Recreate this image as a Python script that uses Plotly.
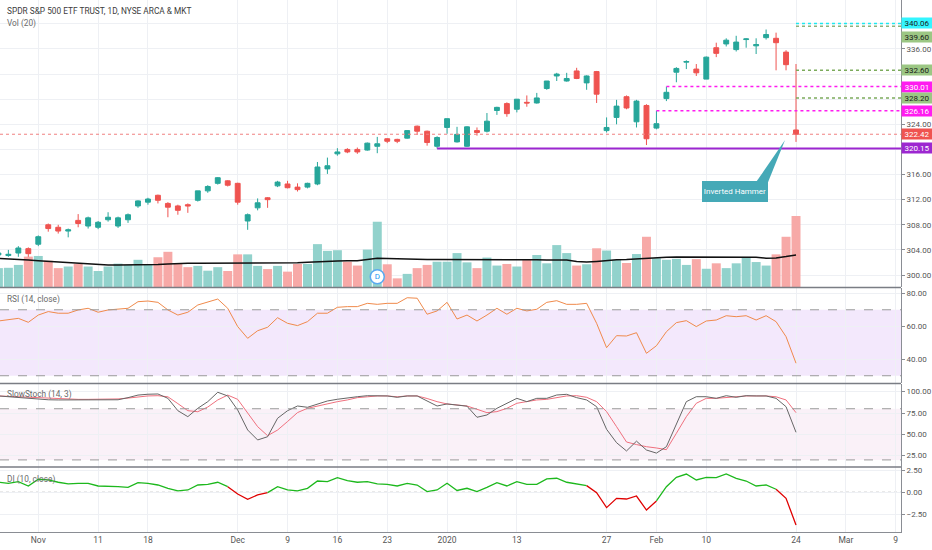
import pandas as pd
import plotly.graph_objects as go

# trading calendar (weekends + NYSE holidays skipped, like the TV time scale)
holidays = ["2019-11-28", "2019-12-25", "2020-01-01", "2020-01-20", "2020-02-17"]
calendar = [d.strftime("%Y-%m-%d") for d in pd.bdate_range("2019-10-28", "2020-03-13")
            if d.strftime("%Y-%m-%d") not in holidays]
dates = calendar[:81]

tick_dates = ["2019-11-01", "2019-11-11", "2019-11-18", "2019-12-02", "2019-12-09", "2019-12-16",
              "2019-12-23", "2020-01-02", "2020-01-13", "2020-01-27", "2020-02-03", "2020-02-10",
              "2020-02-24", "2020-03-02", "2020-03-09"]
tick_labels = ["Nov", "11", "18", "Dec", "9", "16", "23", "2020", "13", "27", "Feb", "10", "24", "Mar", "9"]

opens = [303.2, 303.1, 303.5, 304.2, 304.9, 308.0, 307.6, 307.0, 308.7, 307.8,
         307.6, 308.8, 307.8, 308.8, 311.0, 311.6, 312.7, 311.4, 311.0, 311.2,
         311.9, 313.4, 314.6, 315.0, 314.6, 308.6, 310.7, 312.3, 314.2, 314.5,
         314.0, 314.0, 314.5, 316.9, 319.3, 320.0, 320.0, 319.9, 320.5, 321.7,
         321.6, 321.8, 323.7, 322.9, 320.5, 323.5, 321.2, 320.5, 323.0, 322.9,
         326.2, 327.3, 326.4, 327.5, 327.4, 329.7, 331.7, 330.9, 332.5, 330.6,
         332.4, 323.0, 325.1, 328.4, 324.4, 327.0, 323.4, 328.1, 332.3, 333.9,
         332.8, 331.2, 336.2, 336.8, 335.9, 337.5, 336.5, 337.8, 337.7, 335.5,
         323.1]
highs = [303.8, 304.0, 304.6, 304.4, 306.3, 308.2, 308.0, 307.4, 309.7, 309.3,
         308.6, 310.0, 309.3, 309.8, 311.9, 312.3, 312.8, 311.6, 311.2, 311.4,
         313.4, 314.3, 315.6, 315.1, 314.7, 309.8, 312.2, 312.4, 315.0, 315.0,
         314.6, 314.7, 318.0, 318.7, 320.2, 320.2, 320.3, 321.1, 322.0, 321.8,
         321.7, 323.0, 323.8, 323.0, 322.1, 324.9, 323.6, 323.7, 323.5, 325.8,
         326.8, 327.5, 328.0, 328.6, 329.0, 330.9, 332.2, 332.2, 333.0, 331.8,
         332.5, 325.1, 327.9, 328.6, 327.9, 327.2, 326.16, 330.01, 333.1, 334.2,
         333.6, 334.8, 337.0, 337.7, 338.1, 337.7, 337.7, 339.1, 338.6, 335.8,
         333.6]
lows = [302.9, 302.9, 302.9, 302.9, 304.6, 306.9, 306.6, 306.0, 307.6, 307.4,
        307.3, 308.5, 307.5, 308.3, 310.7, 311.2, 311.4, 309.2, 309.6, 309.9,
        311.7, 313.1, 314.4, 314.1, 311.2, 307.2, 310.3, 310.7, 314.0, 313.8,
        313.3, 313.8, 314.3, 316.1, 319.0, 319.4, 319.3, 319.8, 319.4, 321.0,
        321.0, 321.7, 322.3, 320.6, 320.15, 322.5, 321.1, 320.4, 322.2, 322.7,
        325.5, 325.2, 325.9, 326.8, 327.3, 329.5, 330.9, 330.8, 331.2, 329.5,
        327.4, 322.7, 324.0, 326.4, 323.5, 320.7, 323.2, 327.7, 330.7, 332.8,
        331.7, 331.2, 334.7, 336.4, 335.6, 336.2, 335.2, 337.5, 332.6, 332.6,
        321.2]
closes = [303.5, 303.3, 304.3, 303.4, 306.1, 307.4, 307.0, 307.2, 308.2, 309.1,
          308.4, 309.2, 309.1, 309.6, 311.8, 312.1, 311.9, 310.8, 310.3, 311.0,
          313.4, 314.1, 315.5, 314.3, 311.6, 309.6, 311.5, 312.0, 314.8, 313.9,
          313.6, 314.6, 317.2, 317.4, 319.6, 319.6, 319.6, 321.0, 320.9, 321.3,
          321.3, 323.0, 322.9, 321.1, 321.9, 324.9, 322.4, 323.6, 322.7, 324.5,
          326.7, 325.7, 328.0, 327.4, 328.2, 330.9, 332.0, 331.3, 331.3, 331.7,
          328.8, 323.5, 326.9, 326.6, 327.7, 321.7, 324.1, 329.1, 332.9, 334.0,
          332.2, 334.7, 335.3, 337.4, 337.1, 337.6, 336.7, 338.3, 337.0, 333.5,
          322.42]
# volume in millions of shares
volume = [59, 60, 69, 95, 97, 82, 59, 64, 72, 64,
          50, 64, 73, 69, 85, 69, 93, 110, 72, 62,
          66, 51, 62, 50, 102, 102, 66, 56, 66, 48,
          72, 72, 134, 113, 115, 79, 67, 117, 204, 71,
          27, 41, 59, 69, 79, 79, 106, 77, 59, 92,
          67, 72, 64, 85, 100, 74, 131, 106, 67, 71,
          121, 114, 85, 75, 103, 157, 90, 85, 88, 69,
          87, 57, 74, 59, 74, 92, 78, 67, 102, 157,
          222]
vol_ma = [89, 88, 86, 84, 82, 80, 78, 76, 74, 71,
          70, 69, 69, 69, 69, 69, 70, 72, 74, 74,
          74, 74, 74, 74, 75, 75, 75, 74, 74, 74,
          76, 77, 79, 80, 81, 82, 82, 86, 90, 89,
          88, 87, 85, 86, 86, 86, 87, 86, 85, 85,
          85, 85, 85, 85, 85, 84, 84, 84, 80, 78,
          80, 83, 85, 86, 88, 91, 93, 93, 94, 94,
          94, 95, 95, 95, 94, 94, 93, 90, 91, 95,
          100]
rsi = [63.2, 63.8, 64.8, 62.4, 66.8, 68.9, 67.9, 67.9, 69.9, 70.9,
       68.5, 69.9, 70.3, 70.9, 74.9, 75.3, 74.5, 69.9, 66.8, 68.5,
       72.9, 74.5, 76.5, 70.9, 59.8, 52.7, 57.3, 59.4, 65.2, 61.8,
       60.4, 62.8, 67.9, 67.9, 71.5, 71.9, 71.9, 73.9, 73.3, 73.9,
       73.9, 77.3, 77.0, 67.3, 69.3, 74.5, 64.4, 66.8, 63.2, 66.8,
       70.9, 67.3, 70.9, 69.3, 70.3, 74.5, 75.5, 73.3, 73.3, 73.9,
       61.8, 47.0, 54.3, 54.1, 56.1, 43.6, 48.2, 56.7, 62.2, 63.4,
       59.8, 63.2, 63.8, 66.4, 65.8, 66.4, 63.8, 66.4, 62.8, 53.7,
       37.6]
stoch_k = [95, 94, 93, 92, 91, 90.5, 90.3, 90.3, 90.3, 90.3,
           90.3, 90, 90.5, 93, 96, 97, 97.3, 92.2, 77.7, 70.7,
           80.5, 88.3, 99.3, 95, 78.5, 55.1, 43.4, 47.2, 68.8, 77.7,
           83.2, 81.7, 85.6, 89.1, 91.1, 92.2, 94.1, 95.3, 95.3, 95,
           93.4, 95, 95, 89.1, 83.2, 85.6, 84.4, 83, 70, 72.7,
           80.5, 86.4, 92.2, 88.3, 92.2, 92.2, 96.1, 96.9, 93, 90.3,
           82.4, 55.9, 40.2, 30.5, 42, 31.6, 28, 35.5, 63, 88.3,
           94.1, 94.1, 92.2, 95.3, 93.4, 95.3, 95, 95, 92.2, 82.4,
           52.4]
stoch_d = [95, 94.5, 94, 93, 92.5, 92, 91.5, 91, 91, 91,
           91, 91, 91.5, 92.5, 94, 95, 95.3, 94, 86, 77.7,
           76.5, 82, 90.3, 96, 91, 74.7, 59, 48.4, 55, 65,
           75.5, 80.5, 83.2, 85.6, 88.3, 90.3, 93, 94, 95, 95,
           94, 95, 95, 92, 88.3, 85.6, 84.4, 83.2, 79.4, 75.4,
           76.6, 80.5, 86.4, 88.3, 90.3, 91, 93.4, 95, 95.3, 93.4,
           88.3, 76.6, 59, 41, 38, 35.5, 34, 32, 51.2, 70.7,
           86.4, 92.2, 92.2, 93.4, 94, 95, 95, 95, 94, 90.3,
           75.4]
di = [1.13, 1.01, 1.2, 0.71, 1.47, 1.39, 1.13, 0.94, 1.01, 1.01,
      0.71, 0.71, 0.63, 0.56, 1.08, 1.01, 0.82, 0.45, 0.15, 0.26,
      0.82, 0.9, 1.13, 0.63, -0.19, -0.79, -0.3, -0.04, 0.63, 0.26,
      0.15, 0.45, 1.27, 1.2, 1.65, 1.31, 1.13, 1.2, 0.94, 0.9,
      0.71, 1.01, 0.82, 0.07, 0.26, 1.01, 0.2, 0.45, 0.07, 0.56,
      1.08, 0.71, 1.2, 0.9, 0.9, 1.5, 1.58, 1.13, 0.9, 0.75,
      -0.04, -1.73, -0.68, -0.76, -0.42, -2.0, -0.98, 0.63, 1.69, 2.06,
      1.39, 1.69, 1.65, 2.06, 1.58, 1.27, 0.71, 0.82, 0.34, -0.68,
      -3.69]
dividend_dates = ["2019-12-20"]

# drawn horizontal levels
level_prices = [340.06, 339.60, 332.60, 330.01, 328.20, 326.16, 320.15]
level_start = ["2020-02-24", "2020-02-24", "2020-02-24", "2020-02-04", "2020-02-24", "2020-02-03", "2019-12-31"]
level_colors = ["#1de9f0", "#8fb07a", "#7cab5c", "#ff1cf0", "#7cab5c", "#ff1cf0", "#9c27d0"]
level_dash = ["dot", "dot", "dot", "dot", "dot", "dot", "solid"]
label_bg = ["#33f5ff", "#9cc784", "#9cc784", "#ff1cf0", "#9cc784", "#ff1cf0", "#9c27d0"]
label_fg = ["#1a1a1a", "#1a1a1a", "#1a1a1a", "#ffffff", "#1a1a1a", "#ffffff", "#ffffff"]
label_shift = [0, -11, 0, 0, 0, 0, 0]  # TV stacks colliding scale labels

# price scale ticks; the ones hidden behind coloured labels get no text
price_ticks = list(range(300, 344, 4))
hidden_ticks = [320, 328, 332, 340]

UP, DOWN = "#26a69a", "#ef5350"
GRID = "#eef0f4"
AXIS = "#8a8d94"
FONT = "Roboto"
X_RANGE = [0.16, 90.53]

pos = {d: i for i, d in enumerate(calendar)}
x = [pos[d] for d in dates]
up = [c >= o for o, c in zip(opens, closes)]

fig = go.Figure()

fig.add_trace(go.Bar(x=x, y=volume, width=0.9, yaxis="y",
                     marker=dict(color=["#92d2cc" if u else "#f7a9a7" for u in up], line_width=0)))
fig.add_trace(go.Scatter(x=x, y=vol_ma, mode="lines", yaxis="y", line=dict(color="#111111", width=1.5)))
fig.add_trace(go.Scatter(x=[pos[d] for d in dividend_dates], y=[32] * len(dividend_dates), yaxis="y",
                         mode="markers+text", text=["D"], textposition="middle center",
                         textfont=dict(color="#2196f3", size=8, family=FONT),
                         marker=dict(size=14, color="white", line=dict(color="#5aa9f0", width=1.5))))

fig.add_trace(go.Candlestick(x=x, open=opens, high=highs, low=lows, close=closes, yaxis="y2",
                             increasing=dict(line=dict(color=UP, width=1), fillcolor=UP),
                             decreasing=dict(line=dict(color=DOWN, width=1), fillcolor=DOWN)))

fig.add_trace(go.Scatter(x=x, y=rsi, mode="lines", yaxis="y3", line=dict(color="#f08a4b", width=1)))
fig.add_trace(go.Scatter(x=x, y=stoch_d, mode="lines", yaxis="y4", line=dict(color="#f0707e", width=1)))
fig.add_trace(go.Scatter(x=x, y=stoch_k, mode="lines", yaxis="y4", line=dict(color="#666666", width=1)))

# DI line coloured by sign, one trace per run of same colour
segs = []
for i in range(1, len(di)):
    col = "#1db81d" if di[i] >= 0 else "#e00000"
    if segs and segs[-1][0] == col:
        segs[-1][1].append(i)
    else:
        segs.append([col, [i - 1, i]])
for col, idx in segs:
    fig.add_trace(go.Scatter(x=[x[i] for i in idx], y=[di[i] for i in idx], mode="lines", yaxis="y5",
                             line=dict(color=col, width=1.3)))

H = 532.0  # plot height in px


def py(px):
    return (H - px) / H


shapes = []
# indicator bands
shapes.append(dict(type="rect", xref="paper", x0=0, x1=1, yref="y3", y0=30, y1=70,
                   fillcolor="#f3e8fc", line_width=0, layer="below"))
shapes.append(dict(type="rect", xref="paper", x0=0, x1=1, yref="y4", y0=20, y1=80,
                   fillcolor="#faf1f8", line_width=0, layer="below"))
for yr, v in [("y3", 30), ("y3", 70), ("y4", 20), ("y4", 80)]:
    shapes.append(dict(type="line", xref="paper", x0=0, x1=1, yref=yr, y0=v, y1=v,
                       line=dict(color="#9a9a9a", width=1, dash="dash")))
shapes.append(dict(type="line", xref="paper", x0=0, x1=1, yref="y5", y0=0, y1=0,
                   line=dict(color="#a0a0a0", width=1, dash="dot"), layer="below"))
# pane separators
for p in [287.5, 383.5, 467]:
    shapes.append(dict(type="line", xref="paper", x0=0, x1=1, yref="paper", y0=py(p), y1=py(p),
                       line=dict(color="#7a7d84", width=1.5)))
# last price line
shapes.append(dict(type="line", xref="x", x0=X_RANGE[0], x1=X_RANGE[1], yref="y2",
                   y0=closes[-1], y1=closes[-1], line=dict(color="#f08080", width=1, dash="dot")))
# drawn levels
for v, d, c, ds in zip(level_prices, level_start, level_colors, level_dash):
    shapes.append(dict(type="line", xref="x", x0=pos[d], x1=X_RANGE[1], yref="y2", y0=v, y1=v,
                       line=dict(color=c, width=2 if ds == "solid" else 1.5, dash=ds)))

# callout pointer to the last candle
last = x[-1]
box_x, box_y = last - 6.1, lows[-1] - 7.9
shapes.append(dict(type="path", xref="x", yref="y2",
                   path=f"M {last - 4.0},{lows[-1] - 6.4} L {last - 1.1},{lows[-1] + 0.3} "
                        f"L {last - 2.8},{lows[-1] - 6.4} Z",
                   fillcolor="#45a9b7", line_width=0))

annotations = []
# price scale labels
for v, bg, fg, sh in zip(level_prices + [closes[-1]], label_bg + [DOWN], label_fg + ["#ffffff"],
                         label_shift + [0]):
    annotations.append(dict(xref="paper", x=1, xanchor="left", yref="y2", y=v, yshift=sh,
                            text=f"{v:.2f}", showarrow=False, bgcolor=bg, width=30, height=10,
                            align="center", font=dict(color=fg, size=8, family=FONT), borderpad=0))
annotations.append(dict(xref="x", x=box_x, yref="y2", y=box_y, text="Inverted Hammer", showarrow=False,
                        bgcolor="#45a9b7", bordercolor="#45a9b7", width=62, height=17,
                        font=dict(color="white", size=8, family=FONT)))
# pane legends
for txt, p, col in [("SPDR S&P 500 ETF TRUST, 1D, NYSE ARCA & MKT", 11, "#3c3c3c"),
                    ("Vol (20)", 23, "#6a6a6a"),
                    ("RSI (14, close)", 299.5, "#6a6a6a"),
                    ("SlowStoch (14, 3)", 395, "#6a6a6a"),
                    ("DI (10, close)", 479.5, "#6a6a6a")]:
    annotations.append(dict(xref="paper", x=0.005, xanchor="left", yref="paper", y=py(p),
                            yanchor="middle", text=txt, showarrow=False,
                            font=dict(color=col, size=8.3, family=FONT)))

yax = dict(side="right", anchor="x", showgrid=True, gridcolor=GRID, zeroline=False,
           showline=True, linecolor=AXIS, linewidth=1, ticks="outside", ticklen=3, tickcolor=AXIS,
           tickformat=".2f", tickfont=dict(size=8, color="#555555", family=FONT), fixedrange=True)

fig.update_layout(
    width=932, height=550,
    margin=dict(l=0, r=31, t=0, b=18),
    paper_bgcolor="white", plot_bgcolor="white",
    showlegend=False,
    bargap=0.1,
    xaxis=dict(range=X_RANGE, anchor="y5", tickvals=[pos[d] for d in tick_dates], ticktext=tick_labels,
               showgrid=True, gridcolor=GRID, zeroline=False, showline=True, linecolor=AXIS,
               ticks="", tickfont=dict(size=8.5, color="#555555", family=FONT),
               rangeslider=dict(visible=False)),
    yaxis=dict(domain=[py(287), 1], range=[0, 897], visible=False, fixedrange=True),
    yaxis2=dict(yax, overlaying="y", range=[298.09, 343.8], tickvals=price_ticks,
                ticktext=["" if t in hidden_ticks else f"{t:.2f}" for t in price_ticks]),
    yaxis3=dict(yax, domain=[py(383), py(288)], range=[25.6, 83.2], tickvals=[40, 60, 80]),
    yaxis4=dict(yax, domain=[py(467), py(384)], range=[11.7, 109], tickvals=[25, 50, 75, 100]),
    yaxis5=dict(yax, domain=[0, py(467)], range=[-4.48, 2.85], tickvals=[-2.5, 0, 2.5]),
    shapes=shapes,
    annotations=annotations,
)

# page body has a default 8px margin; drop it so the figure sits at the window origin
fig.write_html("out.html", config={"displayModeBar": False},
               post_script="document.body.style.margin='0';document.body.style.overflow='hidden';")
